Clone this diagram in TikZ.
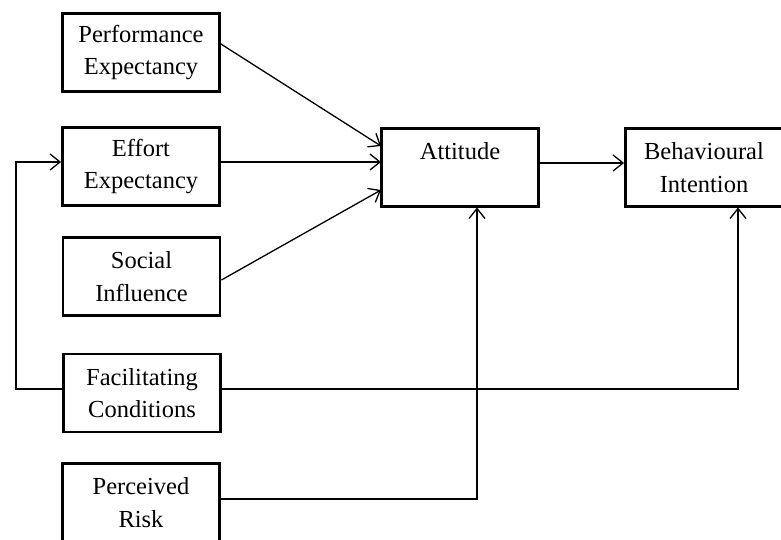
\documentclass[tikz,border=0pt]{standalone}
\usepackage{fontspec}
\setmainfont{Liberation Serif}
\usetikzlibrary{arrows.meta}
\begin{document}
\begin{tikzpicture}[x=1pt,y=-1pt,
  box/.style={draw, line width=2.8pt, minimum width=157pt, minimum height=78pt,
    align=center, inner sep=0pt, font=\fontsize{24.5}{32.5}\selectfont},
  conn/.style={line width=1.3pt, -{Straight Barb[length=10pt,width=16pt,line width=1.3pt]}},
  plain/.style={line width=1.3pt}]
\clip (0,0) rectangle (781,539);
\useasboundingbox (0,0) rectangle (781,539);
\node[box] (pe) at (141,52.5) {Performance\\Expectancy};
\node[box] (ee) at (141,166.5) {Effort\\Expectancy};
\node[box] (si) at (141.5,276.5) {Social\\Influence};
\node[box] (fc) at (142,393) {Facilitating\\Conditions};
\node[box] (pr) at (141,502.5) {Perceived\\Risk};
\node[box] (at) at (460,167.5) {Attitude\\\mbox{}};
\node[box] (bi) at (704,167.5) {Behavioural\\Intention};
\coordinate (at1) at (381,146);
\coordinate (at2) at (381,162);
\coordinate (at3) at (381,190);
\draw[conn] (pe.east |- 0,44) -- (at1);
\draw[conn] (ee.east |- 0,162) -- (at2);
\draw[conn] (si.east |- 0,280) -- (at3);
\draw[conn] (at.east |- 0,163) -- (bi.west |- 0,163);
\coordinate (fl) at (16,389);
\draw[conn] (fc.west |- fl) -- (fl) -- (16,162) -- (ee.west |- 0,162);
\draw[conn] (fc.east |- 0,389) -- (738,389) -- (738,207.5);
\draw[conn] (pr.east |- 0,499) -- (477,499) -- (477,207.5);
\end{tikzpicture}
\end{document}
